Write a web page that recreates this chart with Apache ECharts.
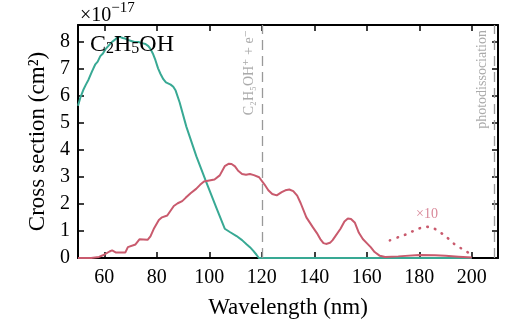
<!DOCTYPE html>
<html>
<head>
<meta charset="utf-8">
<script src="https://cdn.jsdelivr.net/npm/echarts@6/dist/echarts.min.js"></script>
<style>html,body{margin:0;padding:0;background:#fff}#c{width:525px;height:324px}</style>
</head>
<body>
<div id="c"></div>
<script>
// ---- data (cross section in units of 1e-17 cm^2) ----
const absWavelength = [50,51,52,53,54,55.3,56.6,57.5,58.5,59.5,60.4,61.5,62.9,64,65,66,67,68,69,70,71.5,73,74.5,75.7,76.8,77.6,78.5,79.5,80.5,81.4,82.5,83.5,85.3,86.3,87.2,88.7,91.3,95.1,98.9,102.8,105.9,108,110.4,112.5,114.2,115.5,116.8,118,118.9,200];
const absCross = [5.62,5.95,6.2,6.4,6.58,6.88,7.15,7.25,7.45,7.55,7.7,7.82,7.97,8.05,8.15,8.16,8.12,8.1,8.05,8.02,7.97,7.97,7.93,7.9,7.82,7.72,7.55,7.3,7.0,6.8,6.6,6.48,6.4,6.32,6.18,5.75,4.84,3.75,2.79,1.83,1.08,0.95,0.81,0.66,0.51,0.4,0.26,0.12,0,0];

const ionWavelength = [50,55,58,59.5,62,63,64.5,68,69,71.9,73.4,76.5,77.6,79,80.8,82,84,86.5,88,89.7,91,93,95,96.5,98,100,102,104,105.9,107.5,108.5,109.8,111,112.5,114,115.5,117,119,121,122.5,124,125.7,127.6,129,130.5,132,133.5,134.8,137,139.5,141,142.3,143.5,144.5,146,147,150,151.5,152.8,154,155.5,157,158.5,160.2,161.5,163,165,167,172,180,186,190,195,200];
const ionCross = [0,0,0.04,0.1,0.24,0.28,0.2,0.2,0.4,0.5,0.69,0.67,0.8,1.1,1.4,1.5,1.57,1.92,2.02,2.1,2.22,2.4,2.55,2.7,2.82,2.86,2.9,3.05,3.39,3.48,3.47,3.38,3.22,3.1,3.07,3.1,3.06,2.98,2.72,2.5,2.36,2.31,2.43,2.5,2.53,2.47,2.3,2.03,1.5,1.13,0.92,0.7,0.55,0.52,0.56,0.66,1.08,1.35,1.46,1.44,1.3,0.93,0.7,0.53,0.4,0.22,0.08,0.04,0.06,0.11,0.1,0.08,0.05,0.02];

const ionX10Wavelength = [168.8,172.3,175.5,178,180.6,183.1,185,187.6,190.1,193.3,195.9,198.5,201];
const ionX10Cross = [0.65,0.78,0.89,1.01,1.11,1.15,1.12,0.97,0.8,0.52,0.36,0.21,0.12];

const thresholdWavelengths = [120, 208.5];
const thresholdLabels = ['C₂H₅OH⁺ + e⁻', 'photodissociation'];

const xTicks = [60,80,100,120,140,160,180,200];
const yTicks = [0,1,2,3,4,5,6,7,8];

// ---- chart ----
const zip = (a, b) => a.map((v, i) => [v, b[i]]);
const FONT = '"Liberation Serif", "DejaVu Serif", serif';
const TEAL = '#38a994';
const RED = '#c95a6d';

const axisLine = {show: true, onZero: false, lineStyle: {color: '#000', width: 2}};
const mkX = (pos, labels) => ({
  type: 'value', min: 50, max: 210, position: pos,
  axisLine: axisLine,
  axisTick: {show: true, inside: true, length: 6, lineStyle: {color: '#000', width: 1.5}, customValues: xTicks},
  axisLabel: {show: labels, customValues: xTicks, fontFamily: FONT, fontSize: 20, color: '#000', margin: 10},
  splitLine: {show: false}
});
const mkY = (pos, labels) => ({
  type: 'value', min: 0, max: 8.6, position: pos,
  axisLine: axisLine,
  axisTick: {show: true, inside: true, length: 6, lineStyle: {color: '#000', width: 1.5}, customValues: yTicks},
  axisLabel: {show: labels, customValues: yTicks, fontFamily: FONT, fontSize: 20, color: '#000', margin: 8},
  splitLine: {show: false}
});

const xBottom = mkX('bottom', true);
xBottom.name = 'Wavelength (nm)';
xBottom.nameLocation = 'middle';
xBottom.nameGap = 38;
xBottom.nameTextStyle = {fontFamily: FONT, fontSize: 23, color: '#000'};
const yLeft = mkY('left', true);
yLeft.name = 'Cross section (cm²)';
yLeft.nameLocation = 'middle';
yLeft.nameGap = 26;
yLeft.nameTextStyle = {fontFamily: FONT, fontSize: 23, color: '#000'};

const chart = echarts.init(document.getElementById('c'), null, {renderer: 'canvas'});
chart.setOption({
  animation: false,
  backgroundColor: '#fff',
  grid: {left: 78, right: 27, top: 25, bottom: 60, containLabel: false},
  xAxis: [xBottom, mkX('top', false)],
  yAxis: [yLeft, mkY('right', false)],
  series: [
    {
      type: 'line', data: zip(absWavelength, absCross), showSymbol: false, symbol: 'none',
      lineStyle: {color: TEAL, width: 2}, itemStyle: {color: TEAL}, z: 3,
      markLine: {
        silent: true, symbol: 'none', animation: false,
        lineStyle: {color: '#999', width: 1.3, type: [10, 6]},
        label: {
          show: true, position: 'insideEndTop', distance: 5,
          fontFamily: FONT, fontSize: 14, color: '#aaa',
          formatter: p => thresholdLabels[thresholdWavelengths.indexOf(p.value)]
        },
        data: thresholdWavelengths.map(w => ({xAxis: w}))
      }
    },
    {
      type: 'line', data: zip(ionWavelength, ionCross), showSymbol: false, symbol: 'none',
      lineStyle: {color: RED, width: 2}, itemStyle: {color: RED}, z: 4
    },
    {
      type: 'line', data: zip(ionX10Wavelength, ionX10Cross), showSymbol: false, symbol: 'none', smooth: 0.3,
      lineStyle: {color: RED, width: 2.6, type: [0.5, 7.5], cap: 'round'}, itemStyle: {color: RED}, z: 4
    }
  ],
  graphic: [
    {
      type: 'text', left: 90, top: 33, z: 10,
      style: {
        text: '{n|C}{s|2}{n|H}{s|5}{n|OH}',
        rich: {
          n: {fontFamily: FONT, fontSize: 24, lineHeight: 28, fill: '#000', verticalAlign: 'bottom'},
          s: {fontFamily: FONT, fontSize: 16, lineHeight: 12, fill: '#000', verticalAlign: 'bottom'}
        }
      }
    },
    {
      type: 'text', left: 80, top: 1, z: 10,
      style: {
        text: '{n|×10}{p|−17}',
        rich: {
          n: {fontFamily: FONT, fontSize: 20, lineHeight: 25, fill: '#000', verticalAlign: 'bottom'},
          p: {fontFamily: FONT, fontSize: 15, lineHeight: 13, fill: '#000', verticalAlign: 'top'}
        }
      }
    },
    {
      type: 'text', left: 416, top: 207, z: 10,
      style: {text: '×10', fontFamily: FONT, fontSize: 14, fill: '#d9899a'}
    }
  ]
});
</script>
</body>
</html>
